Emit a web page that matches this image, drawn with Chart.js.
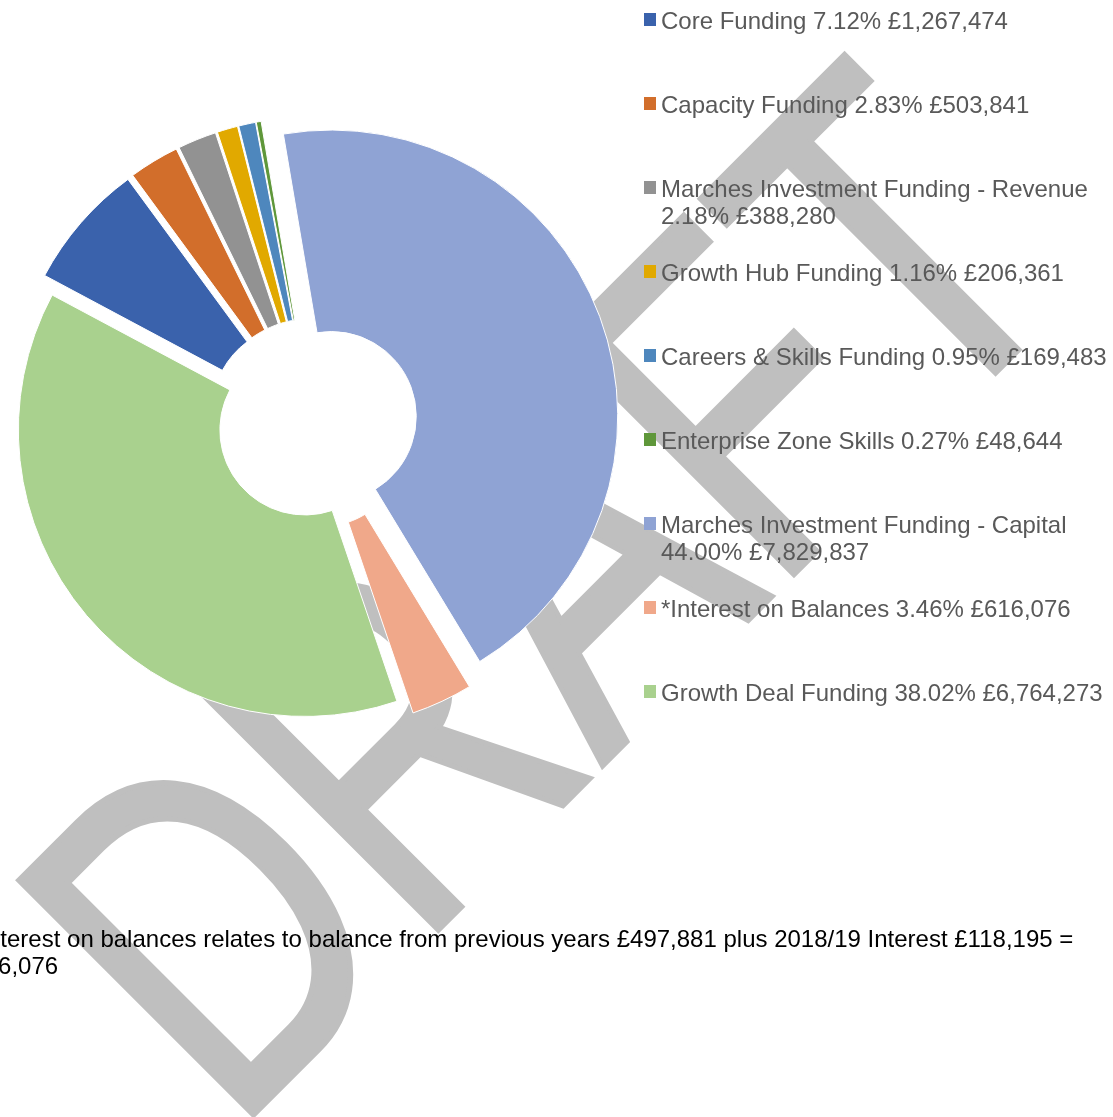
<!DOCTYPE html>
<html>
<head>
<meta charset="utf-8">
<script src="https://cdn.jsdelivr.net/npm/chart.js@4.4.1/dist/chart.umd.min.js"></script>
<style>
  body { margin: 0; background: #fff; overflow: hidden; font-family: "Liberation Sans", Arial, sans-serif; }
  #wrap { position: absolute; left: 0; top: 0; width: 1113px; height: 1117px; }
  .item { position: absolute; left: 661px; width: 452px; font-size: 24px; line-height: 27px; color: #595959; }
  .box { position: absolute; left: -17.5px; top: 6.6px; width: 12.5px; height: 12.5px; }
  #note { position: absolute; left: -42px; top: 925px; width: 1150px; font-size: 24px; line-height: 27px; color: #000; text-indent: 13px; }
</style>
</head>
<body>
<div id="wrap"><canvas id="chart"></canvas></div>
<div id="legend"></div>
<div id="note"></div>
<script>
// Donnees
const categories = [
  'Core Funding',
  'Capacity Funding',
  'Marches Investment Funding - Revenue',
  'Growth Hub Funding',
  'Careers & Skills Funding',
  'Enterprise Zone Skills',
  'Marches Investment Funding - Capital',
  '*Interest on Balances',
  'Growth Deal Funding'
];
const amounts = [1267474, 503841, 388280, 206361, 169483, 48644, 7829837, 616076, 6764273];
const percents = ['7.12', '2.83', '2.18', '1.16', '0.95', '0.27', '44.00', '3.46', '38.02'];
const footnote = '*Interest on balances relates to balance from previous years £497,881 plus 2018/19 Interest £118,195 = £616,076';

// Styles
const colours = ['#3a62ac', '#d26e2b', '#929292', '#e1a900', '#4e87bd', '#5f973a', '#8fa3d4', '#f0a88a', '#a9d18e'];
const explode = [20, 20, 20, 20, 20, 20, 20, 20, 10]; // decalage des parts en px

function money(n) {
  return String(n).replace(/\B(?=(\d{3})+(?!\d))/g, ',');
}

// Filigrane "DRAFT" derriere le graphique
const watermark = {
  id: 'watermark',
  beforeDraw(chart) {
    const ctx = chart.ctx;
    ctx.save();
    ctx.translate(232, 1136);
    ctx.rotate(-Math.PI / 4);
    ctx.scale(1, 1.33);
    ctx.font = '362px "Liberation Sans"';
    ctx.fillStyle = '#bfbfbf';
    ctx.strokeStyle = '#bfbfbf';
    ctx.lineWidth = 4.5;
    ctx.fillText('DRAFT', 0, 0);
    ctx.strokeText('DRAFT', 0, 0);
    ctx.restore();
  }
};

// Parts "eclatees" : on deplace chaque arc le long de son angle median
const explodeSlices = {
  id: 'explodeSlices',
  afterDatasetsUpdate(chart) {
    chart.getDatasetMeta(0).data.forEach((arc, i) => {
      const mid = (arc.startAngle + arc.endAngle) / 2;
      arc.x += Math.cos(mid) * explode[i];
      arc.y += Math.sin(mid) * explode[i];
    });
  }
};

const chart = new Chart(document.getElementById('chart'), {
  type: 'doughnut',
  data: {
    labels: categories,
    datasets: [{
      data: amounts,
      backgroundColor: colours,
      borderColor: '#ffffff',
      borderWidth: 1,
      hoverOffset: 0
    }]
  },
  options: {
    responsive: true,
    maintainAspectRatio: false,
    animation: false,
    events: [],
    rotation: 298.1,
    cutout: '29.67%',
    radius: 286.5,
    layout: { padding: { left: 0, top: 0, right: 488, bottom: 270 } },
    plugins: {
      legend: { display: false },
      tooltip: { enabled: false }
    }
  },
  plugins: [watermark, explodeSlices]
});

// Legende a droite
const legend = document.getElementById('legend');
chart.options.plugins.legend.labels.generateLabels(chart).forEach((item, i) => {
  const div = document.createElement('div');
  div.className = 'item';
  div.style.top = (6.7 + 84 * i) + 'px';
  const box = document.createElement('span');
  box.className = 'box';
  box.style.background = item.fillStyle;
  div.appendChild(box);
  div.appendChild(document.createTextNode(item.text + ' ' + percents[i] + '% £' + money(amounts[i])));
  legend.appendChild(div);
});

const cut = footnote.indexOf('£616,076');
document.getElementById('note').append(footnote.slice(0, cut).trim(), document.createElement('br'), footnote.slice(cut));
</script>
</body>
</html>
